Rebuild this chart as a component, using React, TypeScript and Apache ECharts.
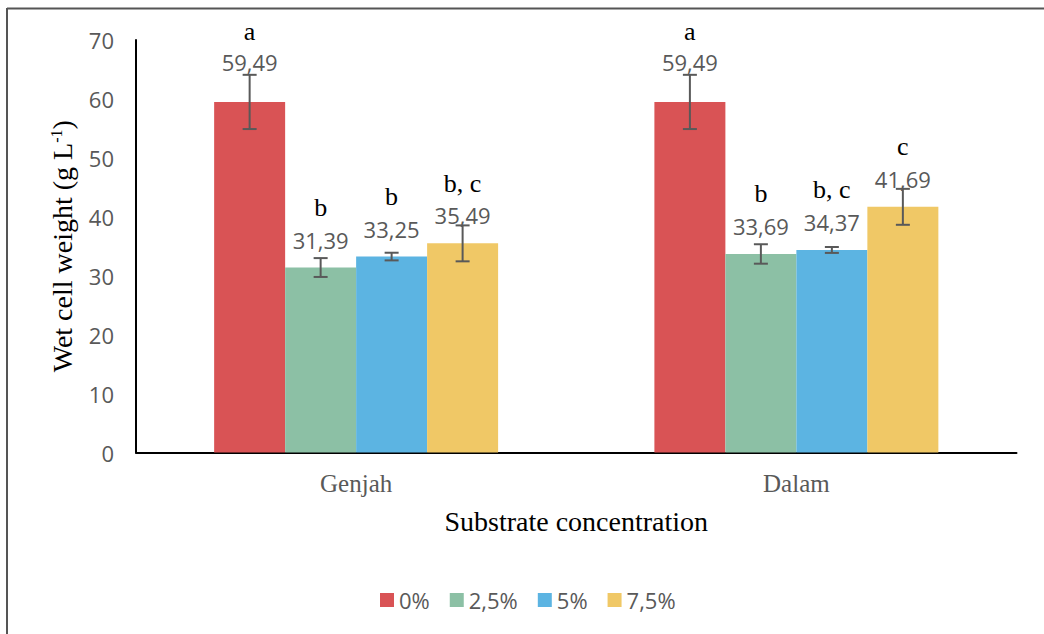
import React, { useEffect, useRef } from "react";
import * as echarts from "echarts";

const categories = ["Genjah", "Dalam"];
const seriesNames = ["0%", "2,5%", "5%", "7,5%"];
const values0 = [59.49, 59.49];
const values25 = [31.39, 33.69];
const values5 = [33.25, 34.37];
const values75 = [35.49, 41.69];
const errors0 = [4.6, 4.6];
const errors25 = [1.6, 1.65];
const errors5 = [0.65, 0.5];
const errors75 = [3.05, 3.05];
const letters0 = ["a", "a"];
const letters25 = ["b", "b"];
const letters5 = ["b", "b, c"];
const letters75 = ["b, c", "c"];
const yMin = 0;
const yMax = 70;
const yInterval = 10;
const colors = ["#D95355", "#8CC0A5", "#5CB4E2", "#F0C866"];

const allValues = [values0, values25, values5, values75];
const allErrors = [errors0, errors25, errors5, errors75];
const allLetters = [letters0, letters25, letters5, letters75];

const CAT_GAP = 0.355;
const SANS = "'Open Sans', 'Noto Sans', sans-serif";
const SERIF = "'Liberation Serif', 'Times New Roman', serif";

type Pt = { cat: number; s: number; value: number; err: number; letter: string };
const points: Pt[] = [];
allValues.forEach((vals, s) => {
  vals.forEach((v, c) => {
    points.push({ cat: c, s, value: v, err: allErrors[s][c], letter: allLetters[s][c] });
  });
});

export default function App() {
  const ref = useRef<HTMLDivElement>(null);
  useEffect(() => {
    if (!ref.current) return;
    const chart = echarts.init(ref.current, undefined, { renderer: "svg" });
    const fmt = (v: number) => v.toFixed(2).replace(".", ",");
    const option: any = {
      animation: false,
      backgroundColor: "#ffffff",
      grid: { left: 136, right: 27.5, top: 40, bottom: 181.5, containLabel: false },
      legend: {
        data: seriesNames,
        left: 380,
        top: 589,
        icon: "rect",
        itemWidth: 14,
        itemHeight: 14,
        itemGap: 20,
        padding: 0,
        textStyle: { fontFamily: SANS, fontSize: 22, color: "#595959" },
      },
      xAxis: {
        type: "category",
        data: categories,
        axisLine: { show: true, lineStyle: { color: "#000000", width: 2 } },
        axisTick: { show: false },
        axisLabel: { fontFamily: SERIF, fontSize: 25, color: "#595959", margin: 18 },
        name: "Substrate concentration",
        nameLocation: "middle",
        nameGap: 55,
        nameTextStyle: { fontFamily: SERIF, fontSize: 28, color: "#000000" },
      },
      yAxis: {
        type: "value",
        min: yMin,
        max: yMax,
        interval: yInterval,
        axisLine: { show: true, lineStyle: { color: "#000000", width: 2 } },
        axisTick: { show: false },
        splitLine: { show: false },
        axisLabel: { fontFamily: SANS, fontSize: 22, color: "#595959", margin: 22 },
        name: "Wet cell weight (g L{sup|-1})",
        nameLocation: "middle",
        nameRotate: 90,
        nameGap: 60,
        nameTextStyle: {
          fontFamily: SERIF,
          fontSize: 28,
          color: "#000000",
          rich: {
            sup: { fontFamily: SERIF, fontSize: 16, color: "#000000", verticalAlign: "top", lineHeight: 28 },
          },
        },
      },
      graphic: [
        { type: "line", shape: { x1: 7, y1: 8.5, x2: 1044, y2: 8.5 }, style: { stroke: "#555555", lineWidth: 2 } },
        { type: "line", shape: { x1: 7, y1: 8, x2: 7, y2: 634 }, style: { stroke: "#555555", lineWidth: 2 } },
      ],
      series: [
        ...seriesNames.map((name, s) => ({
          name,
          type: "bar",
          data: allValues[s],
          barGap: "0%",
          barCategoryGap: CAT_GAP * 100 + "%",
          itemStyle: { color: colors[s] },
        })),
        {
          name: "errors",
          type: "custom",
          clip: false,
          z: 10,
          data: points.map((p) => [p.cat, p.value]),
          encode: { x: 0, y: 1 },
          renderItem: (params: any, api: any) => {
            const p = points[params.dataIndex];
            const center = api.coord([p.cat, p.value]);
            const bandW = api.size([1, 0])[0];
            const barW = (bandW * (1 - CAT_GAP)) / 4;
            const x = center[0] + (p.s - 1.5) * barW;
            const barTop = center[1];
            const top = api.coord([p.cat, p.value + p.err])[1];
            const bot = api.coord([p.cat, p.value - p.err])[1];
            const gridTop = api.coord([p.cat, yMax])[1];
            const cap = 7;
            let valueBase = barTop - 20;
            if (top < valueBase - 2) valueBase = top - 4.5;
            const letterBase = Math.max(valueBase - 31, gridTop);
            const lineStyle = { stroke: "#595959", lineWidth: 2 };
            return {
              type: "group",
              children: [
                { type: "line", shape: { x1: x, y1: top, x2: x, y2: bot }, style: lineStyle },
                { type: "line", shape: { x1: x - cap, y1: top, x2: x + cap, y2: top }, style: lineStyle },
                { type: "line", shape: { x1: x - cap, y1: bot, x2: x + cap, y2: bot }, style: lineStyle },
                {
                  type: "text",
                  x,
                  y: valueBase - 8,
                  style: {
                    text: fmt(p.value),
                    fill: "#595959",
                    fontFamily: SANS,
                    fontSize: 22,
                    align: "center",
                    verticalAlign: "middle",
                  },
                },
                {
                  type: "text",
                  x,
                  y: letterBase - 9,
                  style: {
                    text: p.letter,
                    fill: "#000000",
                    fontFamily: SERIF,
                    fontSize: 26,
                    align: "center",
                    verticalAlign: "middle",
                  },
                },
              ],
            };
          },
        },
      ],
    };
    chart.setOption(option);
    return () => chart.dispose();
  }, []);
  return (
    <div
      ref={ref}
      style={{ position: "fixed", left: 0, top: 0, width: 1044, height: 634, background: "#fff" }}
    />
  );
}
